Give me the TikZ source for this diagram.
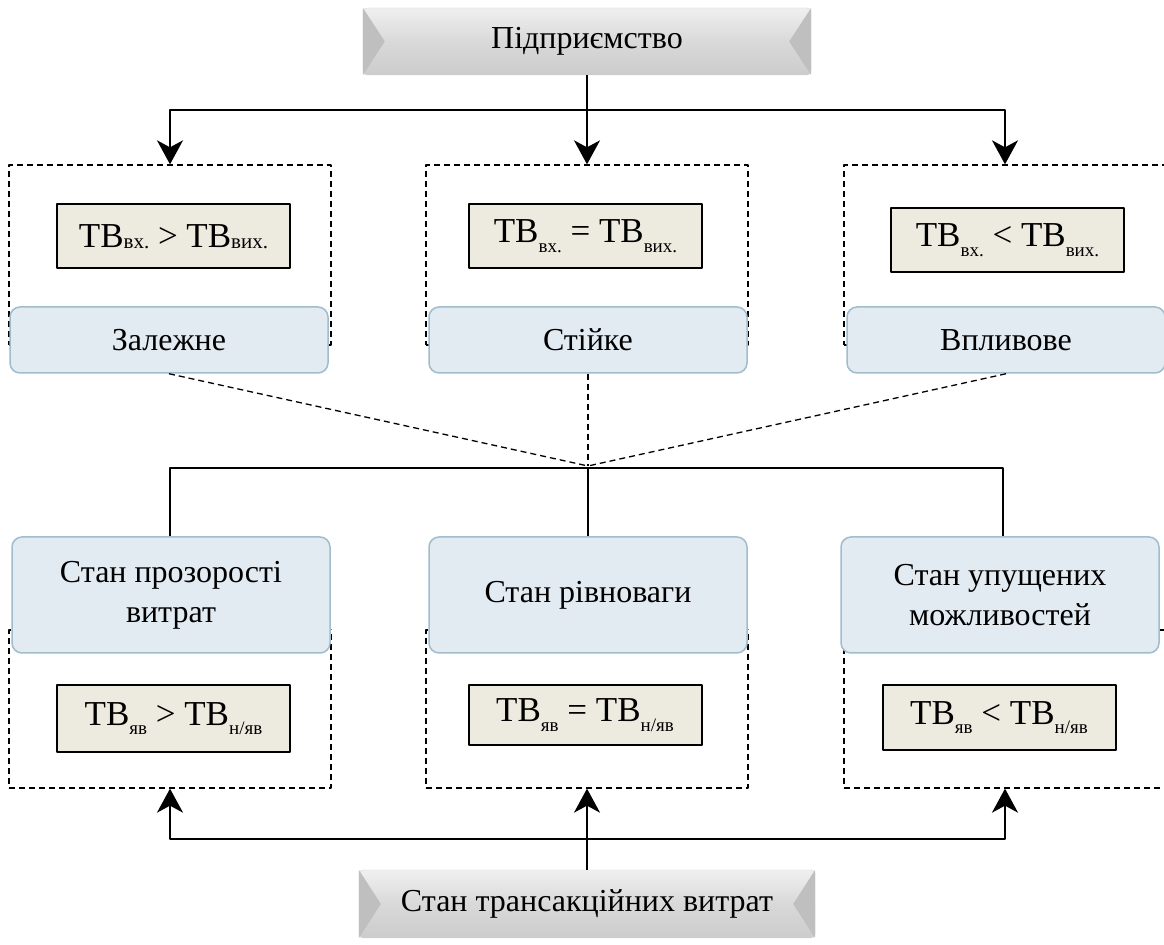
\documentclass[tikz,border=0pt]{standalone}
\usepackage{fontspec}
\setmainfont{Liberation Serif}
\usetikzlibrary{arrows.meta}
\definecolor{formbeige}{RGB}{237,235,224}
\definecolor{paleblue}{RGB}{226,234,242}
\definecolor{blueedge}{RGB}{160,188,205}
\newcommand{\tvsub}[1]{\raisebox{-0.6ex}{\fontsize{19bp}{19bp}\selectfont #1}}
\newcommand{\tvsubflat}[1]{\raisebox{-0.05ex}{\fontsize{21bp}{21bp}\selectfont #1}}
\begin{document}
\begin{tikzpicture}[>={Stealth[length=24bp,width=26bp,inset=7bp]},line join=bevel,
  font=\fontsize{32bp}{40bp}\selectfont,
  greybox/.style={minimum width=448bp,minimum height=67bp,inner sep=0pt,rounded corners=4bp,
    top color=gray!12,bottom color=gray!40,middle color=gray!30,draw=gray!35},
  framebox/.style={draw,dashed,dash pattern=on 6bp off 4bp,line width=1.3bp,minimum width=322bp,inner sep=0pt},
  formbox/.style={draw,line width=2bp,fill=formbeige,minimum width=233bp,minimum height=64bp,inner sep=0pt,
    font=\fontsize{35bp}{40bp}\selectfont},
  statebox/.style={draw=blueedge,line width=1.5bp,fill=paleblue,rounded corners=10bp,minimum width=318bp,
    inner sep=0pt,align=center},
  link/.style={line width=1.3bp},
  feed/.style={line width=2bp,->},
]
\useasboundingbox (0bp,0bp) rectangle (1164bp,945bp);
%%
\node (node_top) at (587bp,903.5bp) [greybox] {};
  \fill[gray!50] (node_top.north west) -- ([xshift=22bp]node_top.west) -- (node_top.south west) -- cycle;
  \fill[gray!50] (node_top.north east) -- ([xshift=-22bp]node_top.east) -- (node_top.south east) -- cycle;
  \node at (node_top) {Підприємство};
\node (node_cost) at (587bp,41bp) [greybox,minimum width=456bp,minimum height=68bp] {};
  \fill[gray!50] (node_cost.north west) -- ([xshift=22bp]node_cost.west) -- (node_cost.south west) -- cycle;
  \fill[gray!50] (node_cost.north east) -- ([xshift=-22bp]node_cost.east) -- (node_cost.south east) -- cycle;
  \node at (node_cost) {Стан трансакційних витрат};
%
\node (frame_1) at (170bp,690bp) [framebox,minimum height=180bp] {};
  \node (frame_2) at (587bp,690bp) [framebox,minimum height=180bp] {};
  \node (frame_3) at (1005bp,690bp) [framebox,minimum height=180bp] {};
\node (frame_4) at (170bp,236bp) [framebox,minimum height=158bp] {};
  \node (frame_5) at (587bp,236bp) [framebox,minimum height=158bp] {};
  \node (frame_6) at (1005bp,236bp) [framebox,minimum height=158bp] {};
%
\node (form_1) at (173.5bp,708.5bp) [formbox] {ТВ\tvsubflat{вх.} > ТВ\tvsubflat{вих.}};
  \node (form_2) at (585.5bp,708.5bp) [formbox] {ТВ\tvsub{вх.} = ТВ\tvsub{вих.}};
  \node (form_3) at (1007.5bp,704.5bp) [formbox] {ТВ\tvsub{вх.} < ТВ\tvsub{вих.}};
\node (form_4) at (173.5bp,226.5bp) [formbox,minimum height=67bp] {ТВ\tvsub{яв} > ТВ\tvsub{н/яв}};
  \node (form_5) at (585bp,230bp) [formbox,minimum height=60bp] {ТВ\tvsub{яв} = ТВ\tvsub{н/яв}};
  \node (form_6) at (999bp,227.5bp) [formbox,minimum height=65bp] {ТВ\tvsub{яв} < ТВ\tvsub{н/яв}};
%
\node (state_1) at (169bp,605bp) [statebox,minimum height=66bp] {Залежне};
  \node (state_2) at (588bp,605bp) [statebox,minimum height=66bp] {Стійке};
  \node (state_3) at (1006bp,605bp) [statebox,minimum height=66bp] {Впливове};
\node (state_4) at (171bp,350bp) [statebox,minimum height=116bp] {Стан прозорості\\витрат};
  \node (state_5) at (588bp,350bp) [statebox,minimum height=116bp] {Стан рівноваги};
  \node (state_6) at (1000bp,350bp) [statebox,minimum height=116bp] {Стан упущених\\можливостей};
%
\coordinate (split_top) at (587bp,835bp);
  \coordinate (split_mid) at (588bp,477bp);
  \coordinate (split_bot) at (587bp,106bp);
\draw [link] (node_top) -- (split_top);
  \draw [feed] (split_top) -| (frame_1.north);
  \draw [feed] (split_top) -- (frame_2.north);
  \draw [feed] (split_top) -| (frame_3.north);
\draw [link,dashed,dash pattern=on 6bp off 4bp] (state_1.south) -- ([yshift=2bp]split_mid);
  \draw [link,dashed,dash pattern=on 6bp off 4bp] (state_2.south) -- ([yshift=2bp]split_mid);
  \draw [link,dashed,dash pattern=on 6bp off 4bp] (state_3.south) -- ([yshift=2bp]split_mid);
\draw [link] (split_mid) -| ([xshift=-1bp]state_4.north);
  \draw [link] (split_mid) -| ([xshift=3bp]state_6.north);
  \draw [link,line width=2bp] (split_mid) -- (state_5.north);
\draw [link] (node_cost) -- (split_bot);
  \draw [feed] (split_bot) -| (frame_4.south);
  \draw [feed] (split_bot) -- (frame_5.south);
  \draw [feed] (split_bot) -| (frame_6.south);
%
\end{tikzpicture}
\end{document}
